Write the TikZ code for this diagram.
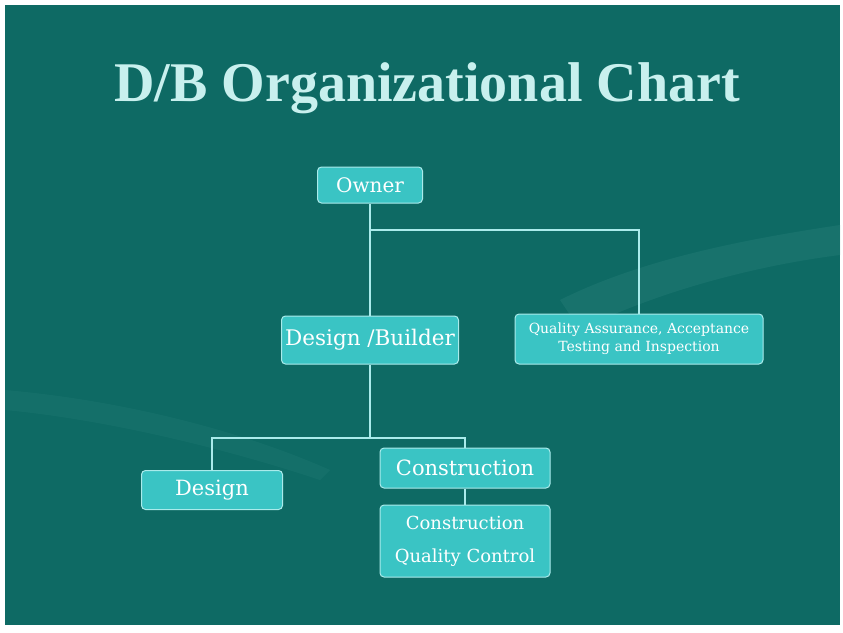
\documentclass[tikz,border=0pt]{standalone}
\usepackage{fontspec}
\setmainfont{Liberation Serif}
\newfontfamily\boxfont{DejaVu Serif}
\definecolor{bgteal}{RGB}{14,106,100}
\definecolor{boxfill}{RGB}{58,196,196}
\definecolor{boxline}{RGB}{170,235,235}
\definecolor{titlecol}{RGB}{200,240,238}
\definecolor{handcol}{RGB}{40,128,122}
\begin{document}
\begin{tikzpicture}[x=1pt,y=-1pt,
  orgbox/.style={draw=boxline, line width=1pt, fill=boxfill, rounded corners=4pt, align=center, inner sep=0pt, text=white},
  link/.style={draw=boxline, line width=1.2pt}]
\useasboundingbox (0,0) rectangle (843,632);
\fill[white] (0,0) rectangle (843,632);
\fill[bgteal] (5,5) rectangle (840,625);
% faint background swooshes
\fill[handcol, opacity=0.4] (560,300) .. controls (640,260) and (740,240) .. (840,225) -- (840,255) .. controls (760,265) and (660,290) .. (580,330) -- cycle;
\fill[handcol, opacity=0.25] (5,390) .. controls (120,400) and (240,430) .. (330,470) -- (320,480) .. controls (230,450) and (110,420) .. (5,410) -- cycle;
% title
\node[text=titlecol, font=\fontsize{56}{64}\selectfont\bfseries] (title) at (427,88) {D/B Organizational Chart};
% boxes
\node[orgbox, minimum width=105pt, minimum height=36pt, font=\boxfont\fontsize{20}{24}\selectfont] (owner) at (370,185) {Owner};
\node[orgbox, minimum width=177pt, minimum height=48pt, font=\boxfont\fontsize{21.5}{26}\selectfont] (db) at (370,340) {Design /Builder};
\node[orgbox, minimum width=248pt, minimum height=50pt, font=\boxfont\fontsize{14}{18}\selectfont] (qa) at (639,339) {Quality Assurance, Acceptance\\Testing and Inspection};
\node[orgbox, minimum width=141pt, minimum height=39pt, font=\boxfont\fontsize{21}{24}\selectfont] (design) at (212,490) {Design};
\node[orgbox, minimum width=170pt, minimum height=40pt, font=\boxfont\fontsize{21}{24}\selectfont] (constr) at (465,468) {Construction};
\node[orgbox, minimum width=170pt, minimum height=72pt, font=\boxfont\fontsize{18}{33}\selectfont] (cqc) at (465,541) {Construction\\Quality Control};
% connectors
\coordinate (j1) at (370,230);
\coordinate (j2) at (370,438);
\draw[link] (owner.south) -- (db.north);
\draw[link] (j1) -| (qa.north);
\draw[link] (db.south) -- (j2);
\draw[link] (j2) -| (design.north);
\draw[link] (j2) -| (constr.north);
\draw[link] (constr.south) -- (cqc.north);
\end{tikzpicture}
\end{document}
